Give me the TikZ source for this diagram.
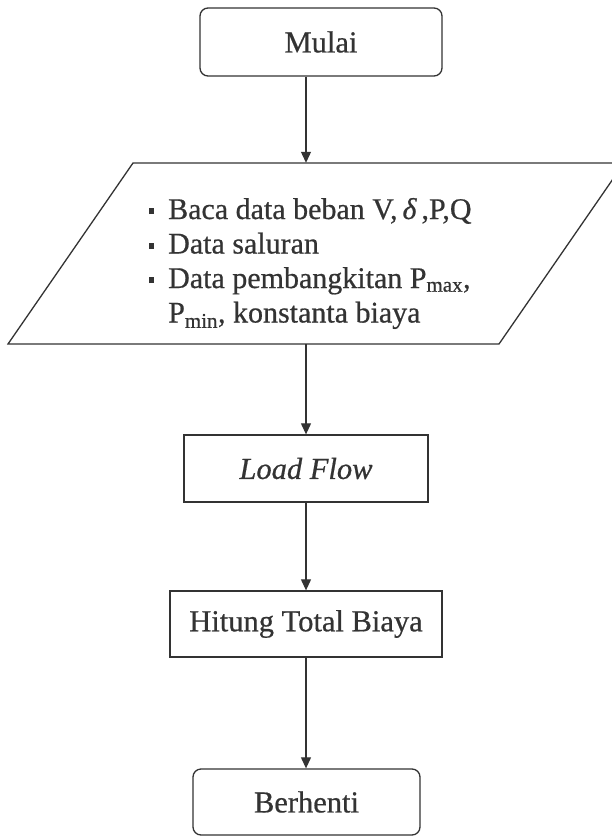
\documentclass[tikz,border=0pt]{standalone}
\usepackage{fontspec}
\setmainfont{Liberation Serif}[FakeBold=0.6]
\usetikzlibrary{arrows.meta}
\definecolor{ink}{HTML}{333333}
\begin{document}
\begin{tikzpicture}[x=1pt,y=-1pt,
  box/.style={draw=ink, line width=1.3pt, text=ink, font=\fontsize{30.5}{35}\selectfont, inner sep=0pt},
  term/.style={box, rounded corners=8pt},
  flow/.style={draw=ink, line width=1.1pt, -{Triangle[length=11pt,width=10pt]}}]
\useasboundingbox (0,0) rectangle (612,837);
\fill[white] (0,0) rectangle (612,837);
% terminal start
\node[term, minimum width=242pt, minimum height=68pt] (start) at (321,42) {Mulai};
% input/output parallelogram
\draw[draw=ink, line width=1.3pt] (133,163) -- (624,163) -- (499,344) -- (8,344) -- cycle;
\node[minimum width=10pt, minimum height=181pt, inner sep=0pt] (io) at (306,253.5) {};
\node[anchor=base west, text=ink, inner sep=0pt, font=\fontsize{30}{34.5}\selectfont] (iotext) at (149,219)
 {\begin{tabular}[t]{@{}l@{\hspace{14pt}}l@{}}
  \raisebox{5pt}{\rule{5pt}{6pt}} & Baca data beban V,\,{\itshape δ}\,,P,Q\\
  \raisebox{5pt}{\rule{5pt}{6pt}} & Data saluran\\
  \raisebox{5pt}{\rule{5pt}{6pt}} & Data pembangkitan P\textsubscript{max},\\
   & P\textsubscript{min}, konstanta biaya
 \end{tabular}};
% process boxes
\node[box, font=\fontsize{30.5}{35}\selectfont\itshape, minimum width=244pt, minimum height=67pt] (lf) at (306,468.5) {Load Flow};
\node[box, minimum width=272pt, minimum height=66pt] (calc) at (306,624) {Hitung Total Biaya};
% terminal stop
\node[term, minimum width=227pt, minimum height=66pt] (stop) at (306.5,802) {Berhenti};
% connectors
\draw[flow] (start.south -| io.north) -- (io.north);
\draw[flow] (io.south) -- (lf.north);
\draw[flow] (lf.south) -- (calc.north);
\draw[flow] (calc.south) -- (stop.north -| calc.south);
\end{tikzpicture}
\end{document}
